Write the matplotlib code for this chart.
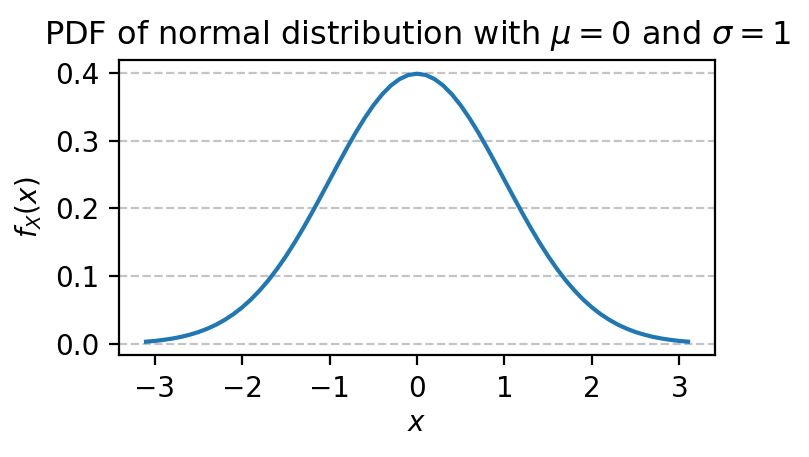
import matplotlib
matplotlib.use("Agg")
import matplotlib.pyplot as plt

# values
x = [-3.1, -3.0, -2.9, -2.8, -2.7, -2.6, -2.5, -2.4, -2.3, -2.2, -2.1,
     -2.0, -1.9, -1.8, -1.7, -1.6, -1.5, -1.4, -1.3, -1.2, -1.1,
     -1.0, -0.9, -0.8, -0.7, -0.6, -0.5, -0.4, -0.3, -0.2, -0.1,
     0.0, 0.1, 0.2, 0.3, 0.4, 0.5, 0.6, 0.7, 0.8, 0.9, 1.0,
     1.1, 1.2, 1.3, 1.4, 1.5, 1.6, 1.7, 1.8, 1.9, 2.0,
     2.1, 2.2, 2.3, 2.4, 2.5, 2.6, 2.7, 2.8, 2.9, 3.0, 3.1]
pdf = [0.0033, 0.0044, 0.0060, 0.0079, 0.0104, 0.0136, 0.0175, 0.0224, 0.0283, 0.0355, 0.0440,
       0.0540, 0.0656, 0.0790, 0.0940, 0.1109, 0.1295, 0.1497, 0.1714, 0.1942, 0.2179,
       0.2420, 0.2661, 0.2897, 0.3123, 0.3332, 0.3521, 0.3683, 0.3814, 0.3910, 0.3970,
       0.3989, 0.3970, 0.3910, 0.3814, 0.3683, 0.3521, 0.3332, 0.3123, 0.2897, 0.2661, 0.2420,
       0.2179, 0.1942, 0.1714, 0.1497, 0.1295, 0.1109, 0.0940, 0.0790, 0.0656, 0.0540,
       0.0440, 0.0355, 0.0283, 0.0224, 0.0175, 0.0136, 0.0104, 0.0079, 0.0060, 0.0044, 0.0033]

fig = plt.figure(figsize=(8.09 / 2, 4.57 / 2), dpi=200)
ax = fig.add_axes([0.147, 0.223, 0.737, 0.645])

ax.plot(x, pdf, color="#1f77b4", linewidth=1.5)
ax.grid(axis="y", linestyle="--", color="#c4c4c4", linewidth=0.8)
ax.set_axisbelow(True)

ax.set_title(r"PDF of normal distribution with $\mu = 0$ and $\sigma = 1$", fontsize=11.5)
ax.set_xlabel(r"$x$", labelpad=2.5)
ax.set_ylabel(r"$f_X(x)$")

fig.savefig("out.png", dpi=200)
